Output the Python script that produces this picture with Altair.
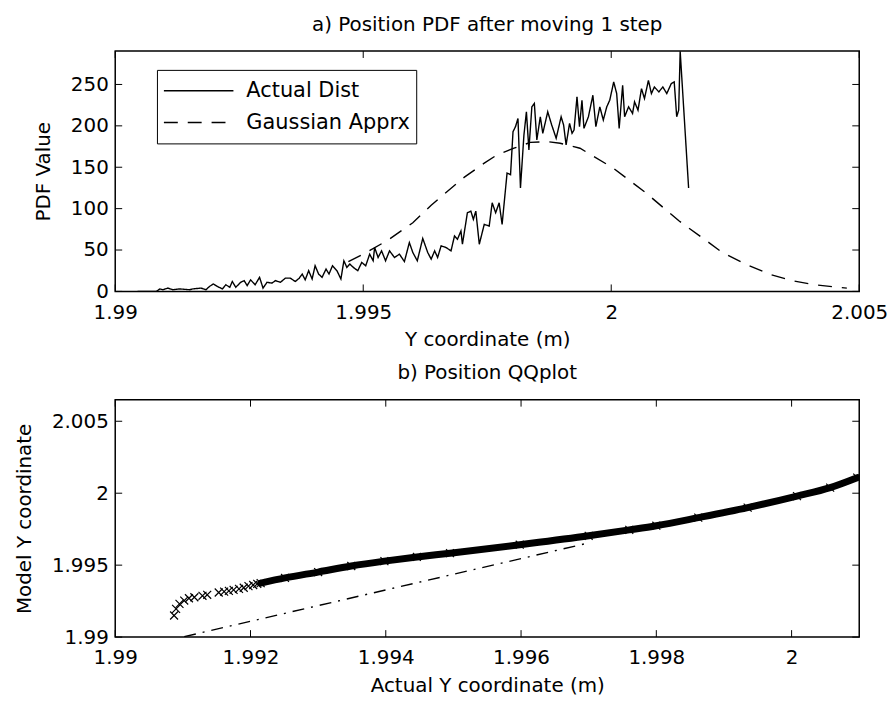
import altair as alt
import pandas as pd

FONT = "DejaVu Sans"

# ---------------- panel a) values ----------------
actual_x = [1.99045, 1.99056, 1.99083, 1.99090, 1.99096, 1.99106, 1.99116, 1.99130, 1.99150, 1.99156,
            1.99173, 1.99183, 1.99190, 1.99198, 1.99206, 1.99216, 1.99223, 1.99231, 1.99236, 1.99243,
            1.99253, 1.99260, 1.99266, 1.99273, 1.99282, 1.99291, 1.99298, 1.99306, 1.99316, 1.99323,
            1.99333, 1.99343, 1.99353, 1.99363, 1.99371, 1.99377, 1.99383, 1.99390, 1.99397, 1.99403,
            1.99410, 1.99417, 1.99425, 1.99431, 1.99438, 1.99447, 1.99455, 1.99461, 1.99467, 1.99473,
            1.99480, 1.99489, 1.99497, 1.99505, 1.99513, 1.99520, 1.99523, 1.99530, 1.99537, 1.99545,
            1.99553, 1.99563, 1.99573, 1.99583, 1.99593, 1.99600, 1.99609, 1.99620, 1.99630,
            1.99637, 1.99644, 1.99650, 1.99657, 1.99667, 1.99677, 1.99684, 1.99690, 1.99697, 1.99700,
            1.99710, 1.99717, 1.99722, 1.99727, 1.99734, 1.99744, 1.99754, 1.99760, 1.99767, 1.99774,
            1.99780, 1.99790, 1.99797, 1.99802, 1.99807, 1.99812, 1.99817, 1.99824, 1.99829, 1.99834,
            1.99840, 1.99845, 1.99850, 1.99857, 1.99862, 1.99872, 1.99880, 1.99889, 1.99899, 1.99904,
            1.99909, 1.99916, 1.99921, 1.99925, 1.99931, 1.99936, 1.99941, 1.99945, 1.99954, 1.99963,
            1.99969, 1.99977, 1.99984, 1.99991, 1.99997, 2.00005, 2.00011, 2.00016, 2.00023, 2.00027,
            2.00035, 2.00043, 2.00047, 2.00054, 2.00061, 2.00067, 2.00075, 2.00081, 2.00087, 2.00096,
            2.00104, 2.00112, 2.00121, 2.00127, 2.00132, 2.00136, 2.00139, 2.00156]
actual_pdf = [0, 0, 0, 3, 2, 4, 2, 3, 2, 3,
              4, 2, 6, 9, 6, 3, 8, 5, 12, 5,
              11, 13, 7, 14, 8, 17, 4, 11, 10, 13,
              11, 16, 16, 12, 16, 21, 14, 25, 15, 31,
              21, 17, 27, 21, 31, 25, 15, 37, 29, 33,
              29, 25, 35, 31, 45, 37, 53, 41, 49, 37,
              49, 41, 45, 36, 59, 47, 37, 64, 47,
              39, 49, 41, 55, 53, 49, 67, 63, 73, 57,
              95, 97, 87, 97, 57, 81, 79, 107, 95, 107,
              81, 143, 141, 193, 199, 209, 125, 189, 217, 171,
              223, 227, 183, 211, 191, 217, 201, 185, 211, 201,
              177, 203, 191, 195, 235, 199, 231, 197, 211, 237,
              199, 223, 207, 223, 231, 253, 239, 197, 249, 211,
              223, 215, 229, 219, 245, 233, 255, 239, 247, 241,
              247, 239, 251, 253, 211, 219, 290, 125]

gauss_x = [1.99470, 1.99500, 1.99550, 1.99600, 1.99637, 1.99664, 1.99704, 1.99744, 1.99770, 1.99804,
           1.99837, 1.99870, 1.99897, 1.99937, 2.00004, 2.00070, 2.00137, 2.00197, 2.00224, 2.00271,
           2.00318, 2.00364, 2.00411, 2.00458, 2.00475]
gauss_pdf = [36, 45, 62, 83, 104, 118, 138, 155, 165, 173,
             180, 181, 179, 173, 149, 119, 85, 59, 47, 33,
             21, 13, 8, 5, 4]

series_names = ["Actual Dist", "Gaussian Apprx"]
pdf_xticks = [1.99, 1.995, 2.0, 2.005]
pdf_yticks = [0, 50, 100, 150, 200, 250]

# ---------------- panel b) values ----------------
qq_actual = [1.99087, 1.99090, 1.99095, 1.99102, 1.99109, 1.99117, 1.99129, 1.99136, 1.99153, 1.99161,
             1.99168, 1.99175, 1.99183, 1.99190, 1.99197, 1.99204, 1.99210,
             1.99215, 1.99251, 1.99300, 1.99349, 1.99398, 1.99446, 1.99495, 1.99598, 1.99700,
             1.99760, 1.99800, 1.99862, 1.99935, 2.00008, 2.00057, 2.00097]
qq_model = [1.99150, 1.99196, 1.99231, 1.99254, 1.99270, 1.99277, 1.99287, 1.99294, 1.99310, 1.99316,
            1.99321, 1.99328, 1.99335, 1.99343, 1.99354, 1.99362, 1.99370,
            1.99375, 1.99411, 1.99452, 1.99494, 1.99528, 1.99557, 1.99583, 1.99642, 1.99704,
            1.99745, 1.99774, 1.99830, 1.99900, 1.99980, 2.00039, 2.00108]
band_start = 1.99215
ref_actual = [1.99102, 1.99696]
ref_model = [1.99003, 1.99650]
qq_xticks = [1.99, 1.992, 1.994, 1.996, 1.998, 2.0]
qq_yticks = [1.99, 1.995, 2.0, 2.005]

W = 749
H1 = 242
H2 = 239
TICK = 7

pdf_df = pd.concat([
    pd.DataFrame({"x": actual_x, "pdf": actual_pdf, "series": series_names[0]}),
    pd.DataFrame({"x": gauss_x, "pdf": gauss_pdf, "series": series_names[1]}),
], ignore_index=True)
qq_df = pd.DataFrame({"a": qq_actual, "m": qq_model})
band_df = qq_df[qq_df["a"] >= band_start]
ref_df = pd.DataFrame({"a": ref_actual, "m": ref_model})


def inward_ticks(xticks, yticks, xenc, yenc, xf, yf, h):
    xdf = pd.DataFrame({xf: xticks})
    ydf = pd.DataFrame({yf: yticks})
    base_x = alt.Chart(xdf).mark_rule(color="black", strokeWidth=1)
    base_y = alt.Chart(ydf).mark_rule(color="black", strokeWidth=1)
    return [
        base_x.encode(x=xenc, y=alt.value(h), y2=alt.value(h - TICK)),
        base_x.encode(x=xenc, y=alt.value(0), y2=alt.value(TICK)),
        base_y.encode(y=yenc, x=alt.value(0), x2=alt.value(TICK)),
        base_y.encode(y=yenc, x=alt.value(W), x2=alt.value(W - TICK)),
    ]


# ---------------- panel a) chart ----------------
xs1 = alt.Scale(domain=[1.99, 2.005], nice=False, zero=False)
ys1 = alt.Scale(domain=[0, 290.4], nice=False, zero=False)
x1 = alt.X("x:Q", scale=xs1,
           axis=alt.Axis(values=pdf_xticks, format=".4~f", title="Y coordinate (m)"))
y1 = alt.Y("pdf:Q", scale=ys1,
           axis=alt.Axis(values=pdf_yticks, format="d", title="PDF Value"))

lines = alt.Chart(pdf_df).mark_line(color="black", strokeWidth=1.4, clip=True).encode(
    x=x1,
    y=y1,
    strokeDash=alt.StrokeDash(
        "series:N",
        scale=alt.Scale(domain=series_names, range=[[1, 0], [14, 10]]),
        legend=alt.Legend(
            title=None, orient="none", legendX=42, legendY=19, direction="vertical",
            symbolType="stroke", symbolSize=4900, symbolStrokeWidth=1.4,
            symbolStrokeColor="black", clipHeight=30, rowPadding=2,
            labelFont=FONT, labelFontSize=21, labelColor="black", labelOffset=12,
            labelLimit=400, strokeColor="black", fillColor="white", padding=6,
            cornerRadius=0,
        ),
    ),
)

top = alt.layer(
    lines, *inward_ticks(pdf_xticks, pdf_yticks, x1, y1, "x", "pdf", H1)
).properties(width=W, height=H1, title="a) Position PDF after moving 1 step")

# ---------------- panel b) chart ----------------
xs2 = alt.Scale(domain=[1.99, 2.001], nice=False, zero=False)
ys2 = alt.Scale(domain=[1.99, 2.0065], nice=False, zero=False)

x2 = alt.X("a:Q", scale=xs2,
           axis=alt.Axis(values=qq_xticks, format=".4~f", title="Actual Y coordinate (m)"))
y2 = alt.Y("m:Q", scale=ys2,
           axis=alt.Axis(values=qq_yticks, format=".4~f", title="Model Y coordinate"))

ref_line = alt.Chart(ref_df).mark_line(
    color="black", strokeWidth=1.4, strokeDash=[12, 7, 2, 7], clip=True
).encode(x=x2, y=y2)

band = alt.Chart(band_df).mark_line(
    color="black", strokeWidth=7, strokeCap="round", interpolate="monotone", clip=True
).encode(x=x2, y=y2)

markers = alt.Chart(qq_df).mark_point(
    shape="M-1,-1L1,1M-1,1L1,-1", size=64, color="black", filled=False,
    strokeWidth=1.2, opacity=1, clip=True
).encode(x=x2, y=y2)

bottom = alt.layer(
    ref_line, band, markers, *inward_ticks(qq_xticks, qq_yticks, x2, y2, "a", "m", H2)
).properties(width=W, height=H2, title="b) Position QQplot")

chart = alt.vconcat(top, bottom, spacing=11).properties(
    padding={"left": 13, "top": 11, "right": 5, "bottom": 5}
).configure(font=FONT).configure_view(
    stroke="black", strokeWidth=1.5
).configure_axis(
    labelFont=FONT, titleFont=FONT, labelFontSize=20, titleFontSize=20,
    labelColor="black", titleColor="black", titleFontWeight="normal",
    ticks=False, tickSize=0, domain=False, grid=False,
    labelFlush=False, labelOverlap=False, labelBound=False,
).configure_axisX(
    labelPadding=11, titlePadding=7.5
).configure_axisY(
    labelPadding=7, titlePadding=17
).configure_title(
    font=FONT, fontSize=20, fontWeight="normal", color="black",
    anchor="middle", baseline="alphabetic", offset=16
).configure_legend(
    symbolStrokeColor="black"
)

chart.save("out.html", embed_options={"renderer": "svg", "actions": False})
